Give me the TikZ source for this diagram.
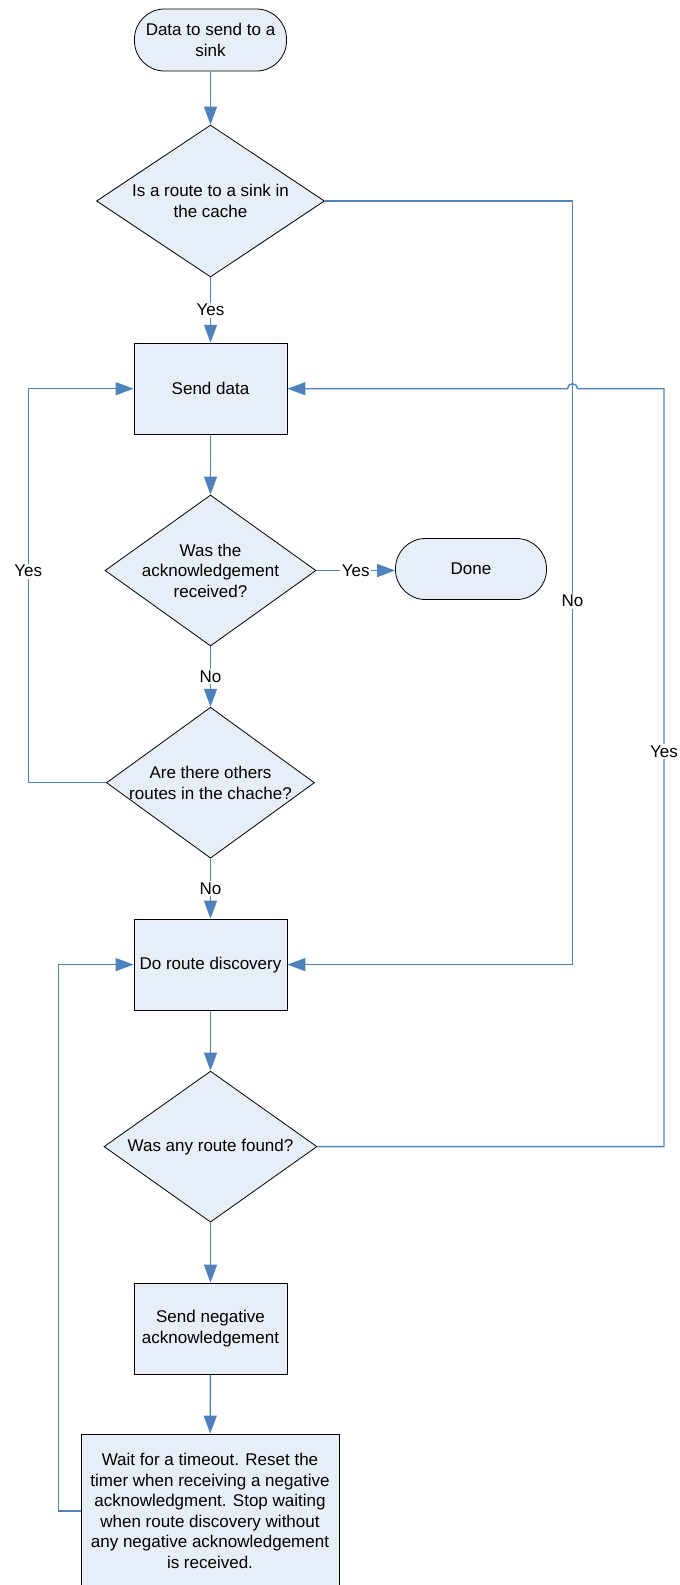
\documentclass[tikz,border=0pt]{standalone}
\usepackage{fontspec}
\setmainfont{Liberation Sans}
\usetikzlibrary{arrows.meta,shapes.geometric}
\definecolor{boxfill}{RGB}{232,238,247}
\definecolor{linkblue}{RGB}{79,129,189}
\begin{document}
\begin{tikzpicture}[x=1pt,y=-1pt,
  every node/.style={font=\fontsize{17}{20.5}\selectfont},
  box/.style={draw=black, line width=0.8pt, fill=boxfill, inner sep=0pt, align=center},
  proc/.style={box, rectangle, minimum width=153pt, minimum height=91pt},
  term/.style={box, rectangle, rounded corners=30pt, minimum width=152pt, minimum height=62pt},
  decision/.style={box, diamond, minimum height=151pt},
  conn/.style={draw=linkblue, line width=1.4pt, -{Triangle[length=18pt,width=13pt]}},
  lbl/.style={fill=white, inner sep=1.5pt}
]
\useasboundingbox (0,0) rectangle (680,1585);

% nodes
\node[term] (start) at (210.5,40) {Data to send to a\\sink};
\node[decision, minimum width=228pt, minimum height=152pt,
  label={[align=center]center:Is a route to a sink in\\the cache}] (d1) at (210.5,201) {};
\node[proc] (send) at (210.5,388.7) {Send data};
\node[decision, minimum width=211pt,
  label={[align=center]center:Was the\\acknowledgement\\received?}] (d2) at (210.5,570.5) {};
\node[term, minimum width=151pt, minimum height=61pt] (done) at (471,569) {Done};
\node[decision, minimum width=208pt,
  label={[align=center]center:Are there others\\routes in the chache?}] (d3) at (210.5,782.7) {};
\node[proc] (route) at (210.5,964.6) {Do route discovery};
\node[decision, minimum width=213pt,
  label={[align=center]center:Was any route found?}] (d4) at (210.5,1146.6) {};
\node[proc] (neg) at (210.5,1328.6) {Send negative\\acknowledgement};
\node[box, rectangle, minimum width=258pt, minimum height=154pt] (wait) at (210,1511)
  {Wait for a timeout. Reset the\\timer when receiving a negative\\acknowledgment. Stop waiting\\when route discovery without\\any negative acknowledgement\\is received.};

% routing coordinates
\coordinate (cL1) at (28.3,782.7);
\coordinate (cL2) at (28.3,388.7);
\coordinate (cN1) at (572.5,201);
\coordinate (cN2) at (572.5,964.6);
\coordinate (cY1) at (664,1146.6);
\coordinate (cY2) at (664,388.7);
\coordinate (hopR) at (577.5,388.7);
\coordinate (cB1) at (58.5,1511);
\coordinate (cB2) at (58.5,964.6);

% connectors
\draw[conn] (start) -- (d1);
\draw[conn] (d1) -- node[lbl]{Yes} (send);
\draw[conn] (send) -- (d2);
\draw[conn] (d2.east) -- node[lbl]{Yes} (d2.east -| done.west);
\draw[conn] (d2) -- node[lbl]{No} (d3);
\draw[conn] (d3.west) -- (cL1) -- node[lbl, pos=0.537]{Yes} (cL2) -- (send.west);
\draw[conn] (d3) -- node[lbl]{No} (route);
\draw[conn] (d1.east) -- (cN1) -- node[lbl, pos=0.524]{No} (cN2) -- (route.east);
\draw[conn] (route) -- (d4);
\draw[conn] (d4.east) -- (cY1) -- node[lbl, pos=0.521]{Yes} (cY2) -- (hopR)
  arc[start angle=0, end angle=180, radius=5pt] -- (send.east);
\draw[conn] (d4) -- (neg);
\draw[conn] (neg) -- (wait);
\draw[conn] (wait.west) -- (cB1) -- (cB2) -- (route.west);
\end{tikzpicture}
\end{document}
